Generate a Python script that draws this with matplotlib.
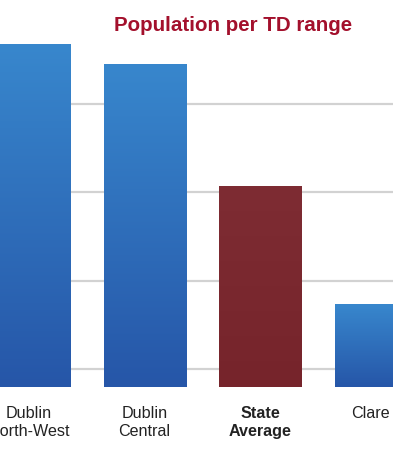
import numpy as np
import matplotlib
matplotlib.use("Agg")
import matplotlib.pyplot as plt
import matplotlib.transforms as mtransforms
from matplotlib.colors import LinearSegmentedColormap

# data (population per TD)
areas = ["Dublin\nNorth-West", "Dublin\nCentral", "State\nAverage", "Clare"]
pop_per_td = [29350, 28900, 26150, 23470]
grid_vals = [22000, 24000, 26000, 28000]

blue_cm = LinearSegmentedColormap.from_list("b", ["#2656a8", "#3887cd"])
red_cm = LinearSegmentedColormap.from_list("r", ["#76242b", "#7e2c33"])

plt.rcParams['font.family'] = ['Liberation Sans', 'DejaVu Sans']

fig = plt.figure(figsize=(3.93, 4.56), dpi=100)
ax = fig.add_axes([0, 0.149, 1, 0.851])

x = np.arange(len(areas))
bars = ax.bar(x, pop_per_td, width=0.71, color="none", zorder=3)

ax.set_xlim(-0.252, 3.15)
ax.set_ylim(21600, 30370)

# gradient fill inside each bar
grad = np.linspace(0, 1, 256).reshape(-1, 1)
for i, b in enumerate(bars):
    cm = red_cm if i == 2 else blue_cm
    x0, y0 = b.get_x(), ax.get_ylim()[0]
    im = ax.imshow(grad, cmap=cm, aspect="auto", origin="lower",
                   extent=[x0, x0 + b.get_width(), y0, b.get_height()],
                   zorder=3)
    im.set_clip_path(b)

ax.set_xlim(-0.252, 3.15)
ax.set_ylim(21600, 30370)

for g in grid_vals:
    ax.axhline(g, color="#d2d2d2", lw=1.6, zorder=1)

ax.set_yticks([])
ax.set_xticks(x)
ax.set_xticklabels(areas, fontsize=11.6, color="#222222", linespacing=1.2)
ax.get_xticklabels()[2].set_fontweight("bold")
ax.tick_params(axis="x", length=0, pad=13)
# nudge "Clare" a little left so it stays inside the picture
lbl = ax.get_xticklabels()[3]
lbl.set_transform(lbl.get_transform() +
                  mtransforms.ScaledTranslation(-4 / 72, 0, fig.dpi_scale_trans))
for s in ax.spines.values():
    s.set_visible(False)

fig.text(0.592, 0.945, "Population per TD range", ha="center", va="center",
         fontsize=14.8, fontweight="bold", color="#a3102c")

fig.savefig("out.png", dpi=100)
